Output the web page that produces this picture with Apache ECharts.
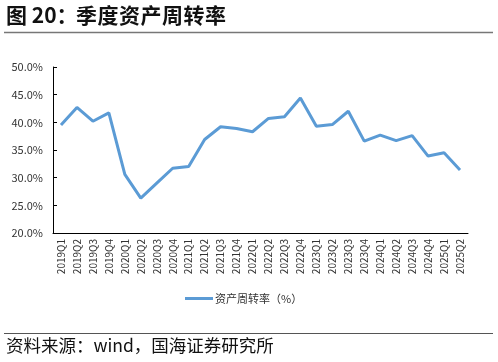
<!DOCTYPE html>
<html><head><meta charset="utf-8">
<script src="https://cdn.jsdelivr.net/npm/echarts@6/dist/echarts.min.js"></script>
<style>html,body{margin:0;padding:0;background:#fff;}#c{width:498px;height:362px;}</style>
</head><body><div id="c"></div>
<script>
var categories = ['2019Q1','2019Q2','2019Q3','2019Q4','2020Q1','2020Q2','2020Q3','2020Q4','2021Q1','2021Q2','2021Q3','2021Q4','2022Q1','2022Q2','2022Q3','2022Q4','2023Q1','2023Q2','2023Q3','2023Q4','2024Q1','2024Q2','2024Q3','2024Q4','2025Q1','2025Q2'];
var turnover = [39.5,42.7,40.2,41.7,30.6,26.3,29.0,31.7,32.0,36.9,39.2,38.9,38.3,40.7,41.0,44.4,39.3,39.6,42.0,36.6,37.7,36.7,37.6,33.9,34.5,31.4];
var seriesName = '资产周转率（%）';
var titlePrefix = '图 20：';
var titleMain = '季度资产周转率';
var sourceText = '资料来源：wind，国海证券研究所';

var graphics = [
  {type:'text', left: 6, top: 5, style:{text: titlePrefix, font:'bold 21px "Noto Sans CJK SC"', fill:'#111'}},
  {type:'line', shape:{x1:4,y1:32.5,x2:493,y2:32.5}, style:{stroke:'#777', lineWidth:1.5}},
  {type:'line', shape:{x1:4,y1:333.5,x2:493,y2:333.5}, style:{stroke:'#555', lineWidth:1.2}},
  {type:'text', left: 6, top: 337, style:{text: sourceText, font:'17.5px "Noto Sans CJK SC"', fill:'#111'}}
];
for (var i = 0; i < titleMain.length; i++) {
  graphics.push({type:'text', left: 76 + i*21.5, top: 5, style:{text: titleMain[i], font:'bold 21px "Noto Sans CJK SC"', fill:'#111'}});
}

var chart = echarts.init(document.getElementById('c'));
chart.setOption({
  animation: false,
  graphic: graphics,
  legend: {
    top: 288, left: 180,
    itemWidth: 28, itemHeight: 3,
    icon: 'rect',
    textStyle: {fontSize: 11, color:'#333', fontFamily:'"Noto Sans CJK SC"', padding:[0,0,0,-3]},
    data: [seriesName]
  },
  grid: {left: 53, right: 30, top: 67, bottom: 129, containLabel:false},
  xAxis: {
    type:'category', data: categories, boundaryGap:true,
    axisLine:{lineStyle:{color:'#000', width:1}},
    axisTick:{inside:true, length:4, lineStyle:{color:'#000'}},
    axisLabel:{rotate:90, fontSize:10, color:'#333', margin:6, interval:0, fontFamily:'"Noto Sans CJK SC"'}
  },
  yAxis: {
    type:'value', min:20, max:50, interval:5,
    axisLine:{show:true, lineStyle:{color:'#000', width:1}},
    axisTick:{show:true, inside:true, length:4, lineStyle:{color:'#000'}},
    splitLine:{show:false},
    axisLabel:{fontSize:11, color:'#333', margin:10, formatter:function(v){return v.toFixed(1)+'%';}, fontFamily:'"Noto Sans CJK SC"'}
  },
  series: [{
    name: seriesName, type:'line', data: turnover,
    showSymbol:false, symbol:'none',
    lineStyle:{color:'#5b9bd5', width:3},
    itemStyle:{color:'#5b9bd5'}
  }]
});
</script></body></html>
